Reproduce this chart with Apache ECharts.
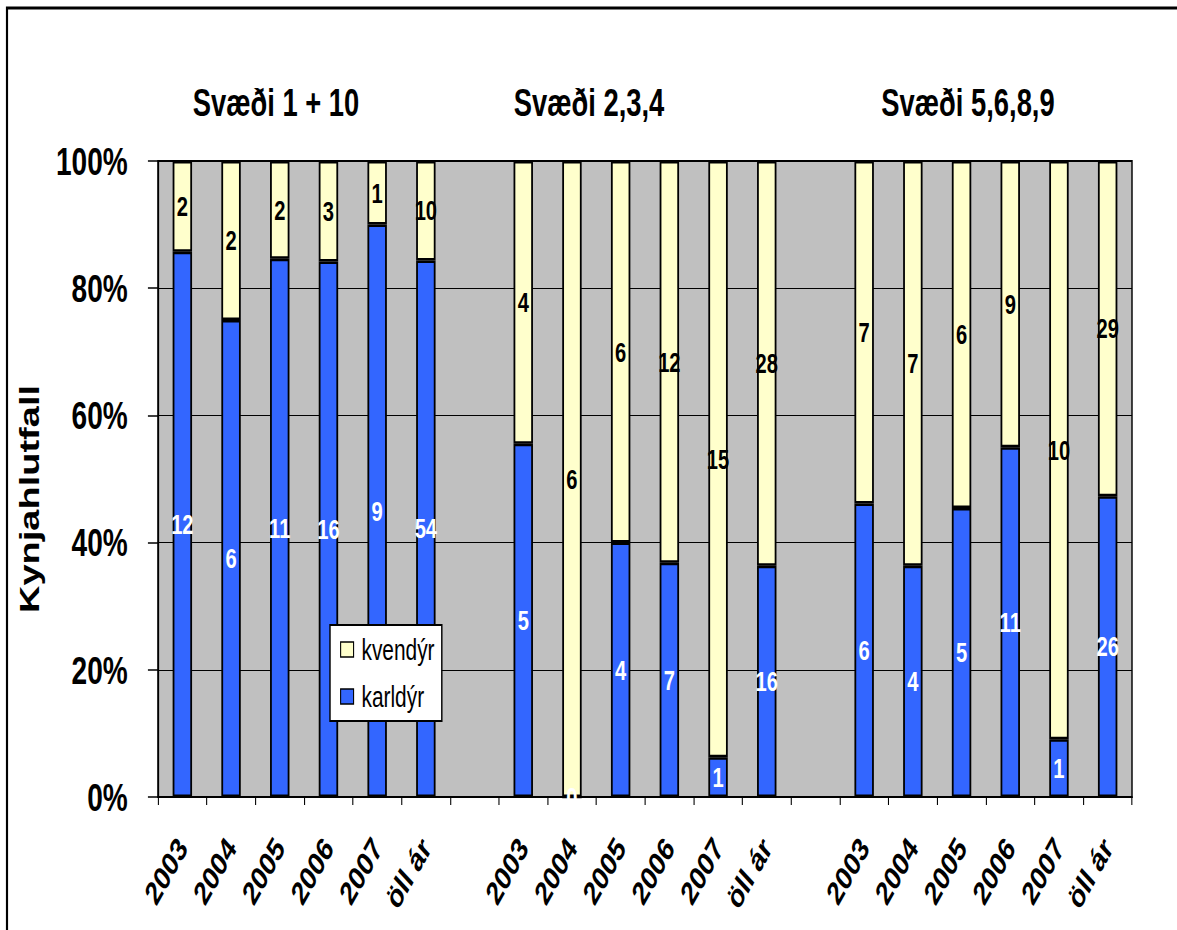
<!DOCTYPE html>
<html>
<head>
<meta charset="utf-8">
<script src="https://cdn.jsdelivr.net/npm/echarts@6/dist/echarts.min.js"></script>
<style>
  html, body { margin: 0; padding: 0; overflow: hidden; background: #fff; width: 1177px; height: 930px; }
  /* the chart is laid out wide and narrowed horizontally, giving the condensed look of the lettering */
  #chart { width: 1635px; height: 930px; transform: scaleX(0.72); transform-origin: 0 0; }
</style>
</head>
<body>
<div id="chart"></div>
<script>
const SX = 0.72;
const FONT = '"Liberation Sans", Arial, sans-serif';

// Years per region; an empty slot separates the three regions
const categories = [
  '2003', '2004', '2005', '2006', '2007', 'öll ár', '',
  '2003', '2004', '2005', '2006', '2007', 'öll ár', '',
  '2003', '2004', '2005', '2006', '2007', 'öll ár'
];
// Counts of males (karldýr) and females (kvendýr)
const karldyr = [12, 6, 11, 16, 9, 54, null, 5, 0, 4, 7, 1, 16, null, 6, 4, 5, 11, 1, 26];
const kvendyr = [2, 2, 2, 3, 1, 10, null, 4, 6, 6, 12, 15, 28, null, 7, 7, 6, 9, 10, 29];
const regionTitles = ['Svæði 1 + 10', 'Svæði 2,3,4', 'Svæði 5,6,8,9'];
const regionTitleX = [276, 589, 968];
const seriesNames = ['karldýr', 'kvendýr'];
const legendOrder = ['kvendýr', 'karldýr'];

function share(counts) {
  return counts.map(function (n, i) {
    if (n === null) return '-';
    const total = karldyr[i] + kvendyr[i];
    return { value: total ? n / total * 100 : 0, count: n };
  });
}

function barLabel(color) {
  return {
    show: true,
    position: 'inside',
    color: color,
    fontFamily: FONT,
    fontWeight: 'bold',
    fontSize: 28,
    textBorderWidth: 0,
    formatter: function (p) { return String(p.data.count); }
  };
}

const chart = echarts.init(document.getElementById('chart'), null, { renderer: 'svg' });

chart.setOption({
  animation: false,
  backgroundColor: '#fff',
  grid: {
    left: 158 / SX,
    right: 1635 - 1132 / SX,
    top: 161,
    bottom: 133,
    show: true,
    backgroundColor: '#c0c0c0',
    borderColor: '#000',
    borderWidth: 2
  },
  legend: {
    orient: 'vertical',
    left: 330 / SX,
    top: 625,
    data: legendOrder,
    backgroundColor: '#fff',
    borderColor: '#000',
    borderWidth: 2,
    borderRadius: 0,
    padding: [10, 10, 10, 14],
    itemGap: 18,
    itemWidth: 18,
    itemHeight: 15,
    icon: 'rect',
    itemStyle: { borderColor: '#000', borderWidth: 1.5 },
    textStyle: { fontFamily: FONT, fontSize: 29, color: '#000', padding: [0, 0, 0, 6] }
  },
  xAxis: {
    type: 'category',
    data: categories,
    axisLine: { lineStyle: { color: '#000', width: 2 } },
    axisTick: { show: true, interval: 0, length: 8, lineStyle: { color: '#000', width: 1.5 } },
    axisLabel: {
      interval: 0,
      rotate: 52,
      margin: 45,
      color: '#000',
      fontFamily: FONT,
      fontWeight: 'bold',
      fontSize: 33
    }
  },
  yAxis: {
    type: 'value',
    min: 0,
    max: 100,
    interval: 20,
    name: 'Kynjahlutfall',
    nameLocation: 'middle',
    nameRotate: 90,
    nameGap: 160,
    nameTextStyle: { fontFamily: FONT, fontWeight: 'bold', fontSize: 38, color: '#000', padding: [0, 40, 0, 0] },
    axisLine: { show: true, lineStyle: { color: '#000', width: 2 } },
    axisTick: { show: true, length: 14, lineStyle: { color: '#000', width: 1.5 } },
    splitLine: { show: true, lineStyle: { color: '#000', width: 1.2 } },
    axisLabel: {
      formatter: '{value}%',
      margin: 42,
      color: '#000',
      fontFamily: FONT,
      fontWeight: 'bold',
      fontSize: 39
    }
  },
  series: [
    {
      name: seriesNames[0],
      type: 'bar',
      stack: 'hlutfall',
      barWidth: 27,
      data: share(karldyr),
      itemStyle: { color: '#3366ff', borderColor: '#000', borderWidth: 2.5 },
      label: barLabel('#fff')
    },
    {
      name: seriesNames[1],
      type: 'bar',
      stack: 'hlutfall',
      barWidth: 27,
      data: share(kvendyr),
      itemStyle: { color: '#ffffcc', borderColor: '#000', borderWidth: 2.5 },
      label: barLabel('#000')
    }
  ],
  graphic: [
    {
      type: 'rect',
      silent: true,
      z: 100,
      shape: { x: 7 / SX, y: 8, width: 3000, height: 2000 },
      style: { fill: 'none', stroke: '#000', lineWidth: 3 }
    }
  ].concat(regionTitles.map(function (t, i) {
    return {
      type: 'text',
      silent: true,
      x: regionTitleX[i] / SX,
      y: 103,
      style: {
        text: t,
        fill: '#000',
        font: 'bold 38px ' + FONT,
        textAlign: 'center',
        textVerticalAlign: 'middle'
      }
    };
  }))
});
</script>
</body>
</html>
